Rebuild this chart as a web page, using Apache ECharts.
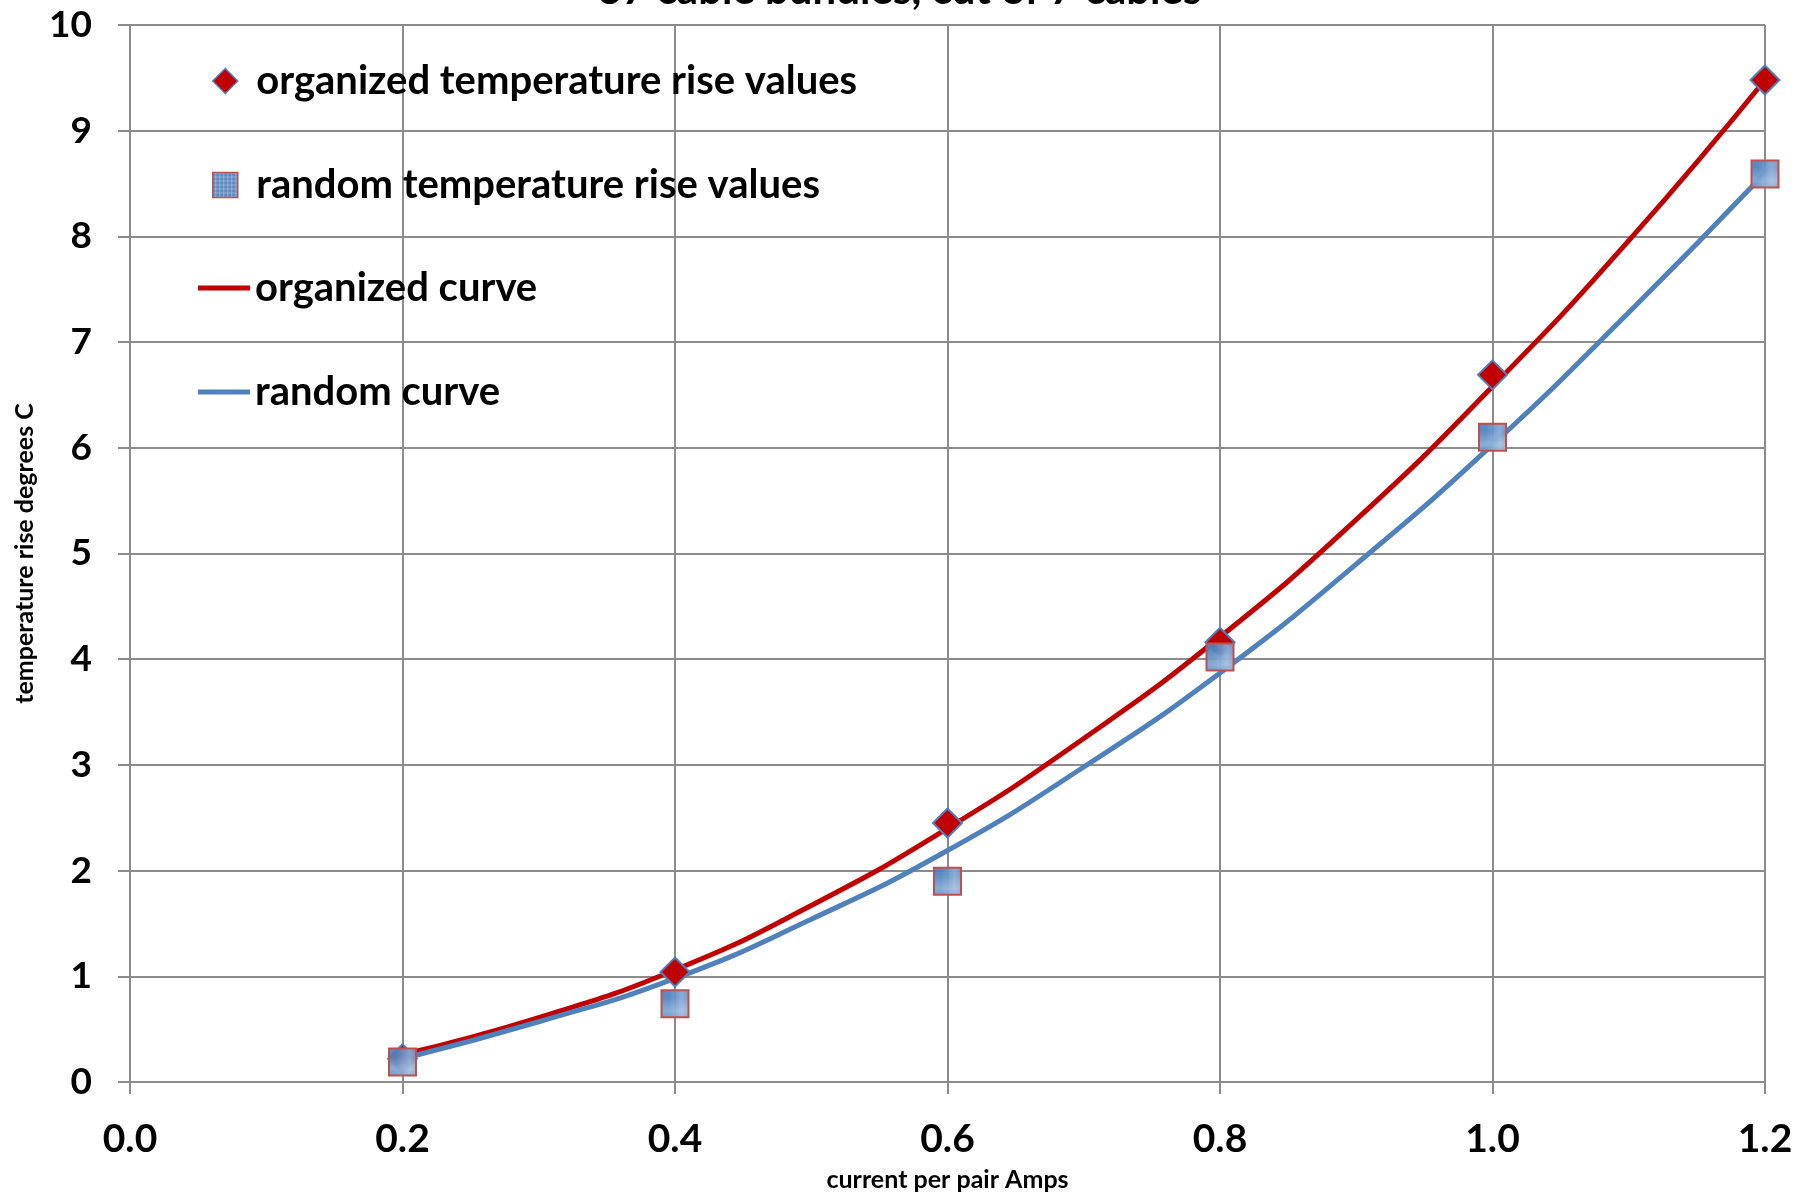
<!DOCTYPE html>
<html>
<head>
<meta charset="utf-8">
<script src="https://cdn.jsdelivr.net/npm/echarts@6/dist/echarts.min.js"></script>
<style>
html,body{margin:0;padding:0;background:#fff;}
#chart{width:1799px;height:1194px;}
</style>
</head>
<body>
<div id="chart"></div>
<script>
// ---- data ----
var currentX = [0.2, 0.4, 0.6, 0.8, 1.0, 1.2];
var organizedValues = [0.22, 1.04, 2.45, 4.16, 6.69, 9.48];
var randomValues = [0.19, 0.74, 1.90, 4.02, 6.10, 8.59];
var curveX = [0.2, 0.3, 0.4, 0.5, 0.6, 0.7, 0.8, 0.9, 1.0, 1.1, 1.2];
var organizedCurve = [0.26, 0.61, 1.06, 1.67, 2.40, 3.25, 4.21, 5.32, 6.58, 7.96, 9.48];
var randomCurve = [0.22, 0.57, 0.98, 1.54, 2.19, 2.98, 3.87, 4.90, 6.03, 7.28, 8.60];
var xTicks = [0, 1.2, 0.2];
var yTicks = [0, 10, 1];
var titleText = '37 cable bundles, cut of 7 cables';
var names = ['organized temperature rise values', 'random temperature rise values', 'organized curve', 'random curve'];

function pairs(xs, ys) { return xs.map(function (x, i) { return [x, ys[i]]; }); }

// blue hatched fill for squares
var pc = document.createElement('canvas');
pc.width = 4; pc.height = 4;
var pctx = pc.getContext('2d');
pctx.fillStyle = 'rgba(79,129,189,0.93)';
pctx.fillRect(0, 0, 4, 4);
pctx.fillStyle = 'rgba(225,236,250,0.35)';
pctx.fillRect(0, 0, 4, 1);
pctx.fillRect(0, 0, 1, 4);
var squareFill = { image: pc, repeat: 'repeat' };

var FONT = 'Lato';
var legendText = { fontFamily: FONT, fontWeight: 'bold', fontSize: 40, color: '#000', lineHeight: 40, padding: 0 };
var legendTops = [61, 165, 268, 372];
var legendLefts = [212, 212, 198, 198];
var legendIcons = [
  { icon: 'path://M0,-1L1,0L0,1L-1,0Z', itemStyle: { color: '#C00000', borderColor: '#4F81BD', borderWidth: 1.5 } },
  { icon: 'path://M0,0H1V1H0Z', itemStyle: { color: squareFill, borderColor: '#C0504D', borderWidth: 1.5 } },
  { icon: 'path://M0,0H52V5H0Z', itemStyle: { color: '#C00000', borderWidth: 0 } },
  { icon: 'path://M0,0H52V5H0Z', itemStyle: { color: '#4F81BD', borderWidth: 0 } }
];
var legends = names.map(function (n, i) {
  return {
    orient: 'vertical', left: legendLefts[i], top: legendTops[i], padding: 0,
    itemWidth: 52, itemHeight: 25, itemGap: 0, symbolKeepAspect: true,
    selectedMode: false,
    textStyle: legendText,
    data: [{ name: n, icon: legendIcons[i].icon, itemStyle: legendIcons[i].itemStyle }]
  };
});

var chart = echarts.init(document.getElementById('chart'), null, { renderer: 'canvas' });
chart.setOption({
  backgroundColor: '#fff',
  animation: false,
  title: {
    text: titleText, left: 'center', top: -36,
    textStyle: { fontFamily: FONT, fontWeight: 'bold', fontSize: 42, color: '#000' }
  },
  grid: { left: 130, right: 34, top: 25, bottom: 112, containLabel: false, outerBoundsMode: 'none' },
  legend: legends,
  xAxis: {
    type: 'value', min: xTicks[0], max: xTicks[1], interval: xTicks[2],
    name: 'current per pair Amps', nameLocation: 'middle', nameGap: 85,
    nameTextStyle: { fontFamily: FONT, fontWeight: 'bold', fontSize: 25, color: '#000' },
    axisLine: { show: true, lineStyle: { color: '#8c8c8c', width: 2 } },
    axisTick: { show: true, inside: false, length: 12, lineStyle: { color: '#8c8c8c', width: 2 } },
    splitLine: { show: true, lineStyle: { color: '#8c8c8c', width: 2 } },
    axisLabel: { margin: 38, fontFamily: FONT, fontWeight: 'bold', fontSize: 39, color: '#000',
      formatter: function (v) { return v.toFixed(1); } }
  },
  yAxis: {
    type: 'value', min: yTicks[0], max: yTicks[1], interval: yTicks[2],
    name: 'temperature rise degrees C', nameLocation: 'middle', nameGap: 93,
    nameTextStyle: { fontFamily: FONT, fontWeight: 'bold', fontSize: 25, color: '#000' },
    axisLine: { show: true, lineStyle: { color: '#8c8c8c', width: 2 } },
    axisTick: { show: true, inside: false, length: 12, lineStyle: { color: '#8c8c8c', width: 2 } },
    splitLine: { show: true, lineStyle: { color: '#8c8c8c', width: 2 } },
    axisLabel: { margin: 38, fontFamily: FONT, fontWeight: 'bold', fontSize: 37, color: '#000' }
  },
  series: [
    {
      name: names[2], type: 'line', data: pairs(curveX, organizedCurve), smooth: 0.5,
      showSymbol: false, symbol: 'none', color: '#C00000',
      lineStyle: { color: '#C00000', width: 5 }, z: 2
    },
    {
      name: names[3], type: 'line', data: pairs(curveX, randomCurve), smooth: 0.5,
      showSymbol: false, symbol: 'none', color: '#4F81BD',
      lineStyle: { color: '#4F81BD', width: 5 }, z: 2
    },
    {
      name: names[0], type: 'scatter', data: pairs(currentX, organizedValues),
      symbol: 'diamond', symbolSize: 29, color: '#C00000',
      itemStyle: { color: '#C00000', borderColor: '#4F81BD', borderWidth: 2, opacity: 1 }, z: 3
    },
    {
      name: names[1], type: 'scatter', data: pairs(currentX, randomValues),
      symbol: 'rect', symbolSize: 27, color: '#4F81BD',
      itemStyle: { color: squareFill, borderColor: '#C0504D', borderWidth: 2, opacity: 1 }, z: 4
    }
  ]
});
</script>
</body>
</html>
